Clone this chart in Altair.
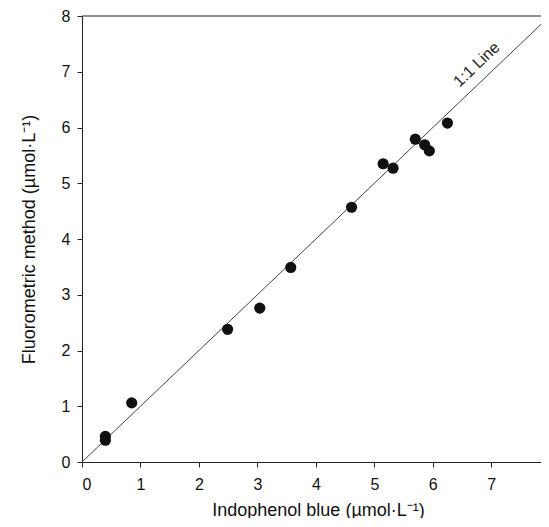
import altair as alt
import pandas as pd

# Data
indophenol = [0.40, 0.40, 0.85, 2.49, 3.04, 3.57, 4.61, 5.15, 5.32, 5.70, 5.86, 5.94, 6.25]
fluorometric = [0.46, 0.39, 1.06, 2.38, 2.76, 3.49, 4.57, 5.35, 5.27, 5.79, 5.69, 5.58, 6.08]
line_x = [0, 8]
line_y = [0, 8]
label_x = [6.75]
label_y = [7.13]
label_text = ["1:1 Line"]
ticks = [0, 1, 2, 3, 4, 5, 6, 7, 8]
frame_top = [8]

pts = pd.DataFrame({"x": indophenol, "y": fluorometric})
ln = pd.DataFrame({"x": line_x, "y": line_y})
lab = pd.DataFrame({"x": label_x, "y": label_y, "t": label_text})
top = pd.DataFrame({"y": frame_top})

FONT = "Liberation Sans"

# the reference is cropped on the right, just before x = 8
xscale = alt.Scale(domain=[0, 7.85], nice=False, zero=True)
yscale = alt.Scale(domain=[0, 8], nice=False, zero=True)

xaxis = alt.Axis(values=ticks, title="Indophenol blue (µmol·L⁻¹)", format="d",
                 labelPadding=9, titleX=236, titleY=53, titleBaseline="alphabetic")
yaxis = alt.Axis(values=ticks, title="Fluorometric method (µmol·L⁻¹)", format="d",
                 labelPadding=7, titleX=-48, titleBaseline="alphabetic")

line = alt.Chart(ln).mark_line(color="#444", strokeWidth=1, clip=True).encode(
    x=alt.X("x:Q", scale=xscale, axis=xaxis),
    y=alt.Y("y:Q", scale=yscale, axis=yaxis),
)

frame = alt.Chart(top).mark_rule(color="#222", strokeWidth=1).encode(
    y=alt.Y("y:Q", scale=yscale, axis=yaxis),
)

points = alt.Chart(pts).mark_circle(size=125, color="#111", opacity=1).encode(
    x=alt.X("x:Q", scale=xscale, axis=xaxis),
    y=alt.Y("y:Q", scale=yscale, axis=yaxis),
)

text = alt.Chart(lab).mark_text(
    font=FONT, fontSize=16, angle=316.4, align="center", baseline="middle", color="#222"
).encode(
    x=alt.X("x:Q", scale=xscale, axis=xaxis),
    y=alt.Y("y:Q", scale=yscale, axis=yaxis),
    text="t:N",
)

chart = alt.layer(line, frame, points, text).properties(
    width=459,
    height=446,
    autosize=alt.AutoSizeParams(type="none"),
    padding={"left": 74, "top": 8, "right": 0, "bottom": 56},
).configure_view(
    stroke="transparent"
).configure_axis(
    grid=False,
    domainColor="#222",
    tickColor="#222",
    tickSize=5,
    labelFont=FONT,
    labelFontSize=16,
    labelColor="#111",
    titleFont=FONT,
    titleFontSize=18,
    titleFontWeight="normal",
    titleColor="#111",
)

chart.save("out.html", embed_options={"renderer": "svg", "actions": False})
